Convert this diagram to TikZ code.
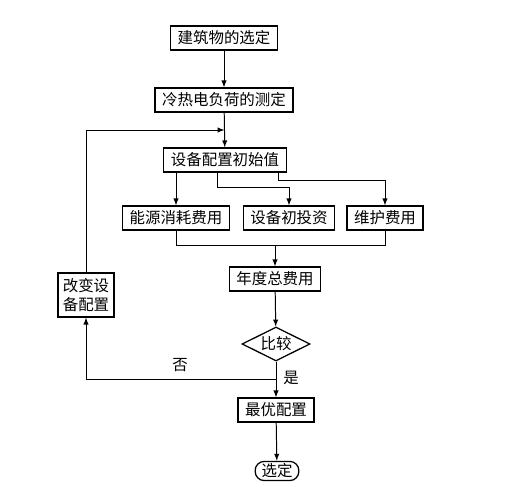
\documentclass[tikz,border=0pt]{standalone}
\usepackage{fontspec}
\newfontfamily\cjk{Noto Sans CJK SC}
\usepackage{tikz}
\usetikzlibrary{calc}
\usetikzlibrary{shapes.geometric}

\begin{document}
\begin{tikzpicture}[x=0.25mm, y=-0.25mm,
        box/.style={draw, line width=0.9pt, inner xsep=1.8mm, inner ysep=0pt, minimum height=6mm, font=\cjk\fontsize{11}{13}\selectfont},
        decision/.style={draw, line width=0.9pt, diamond, aspect=2, inner sep=0pt, minimum width=17mm, minimum height=8.5mm, font=\cjk\fontsize{11}{13}\selectfont},
        terminal/.style={draw, line width=0.9pt, rounded corners=2.3mm, inner xsep=1.6mm, inner ysep=0pt, minimum height=4.8mm, font=\cjk\fontsize{11}{13}\selectfont},
        flow/.style={line width=0.7pt, -latex},
        link/.style={line width=0.7pt}]
        \useasboundingbox (0, 0) rectangle (505, 500);

        \node [box] (building) at (224, 38) {建筑物的选定};
        \node [box] (load) at (224, 100) {冷热电负荷的测定};
        \node [box] (init) at (225, 160) {设备配置初始值};
        \node [box] (energy) at (176, 218) {能源消耗费用};
        \node [box] (invest) at (289, 218) {设备初投资};
        \node [box] (maint) at (385, 218) {维护费用};
        \node [box] (annual) at (275, 279) {年度总费用};
        \node [decision] (compare) at (276, 344) {比较};
        \node [box, minimum height=11mm, align=center, inner xsep=1.2mm] (change) at (86, 295) {改变设\\备配置};
        \node [box] (best) at (276, 410) {最优配置};
        \node [terminal] (final) at (277, 471) {选定};

        \draw [flow] (building) -- (load);
        \draw [flow] (load) -- (init);

        % branches out of the initial configuration
        \draw [flow] (init.south -| energy.north) -- (energy.north);
        \draw [flow] ([xshift=-2mm]init.south) |- ++(24, 15) -| (invest.north);
        \draw [flow] ([xshift=-2mm]init.south east) |- ++(24, 8) -| (maint.north);

        % sum of the costs
        \coordinate (bus) at ($(energy.south)+(0, 15)$);
        \draw [link] (energy.south) -- (bus) -| (maint.south);
        \draw [flow] (bus -| annual.north) -- (annual.north);
        \draw [flow] (annual) -- (compare);

        % decision
        \coordinate (split) at ($(compare.south)!0.5!(best.north)$);
        \draw [flow] (compare.south) -- (best.north);
        \draw [flow] (split) -| (change.south);
        \coordinate (join) at ($(load.south)!0.5!(init.north)$);
        \draw [flow] (change.north) |- (join);
        \node [font=\cjk\fontsize{11}{13}\selectfont] (no) at (180, 365) {否};
        \node [font=\cjk\fontsize{11}{13}\selectfont] (yes) at (291, 378) {是};

        \draw [flow] (best) -- (final);
    \end{tikzpicture}
\end{document}
